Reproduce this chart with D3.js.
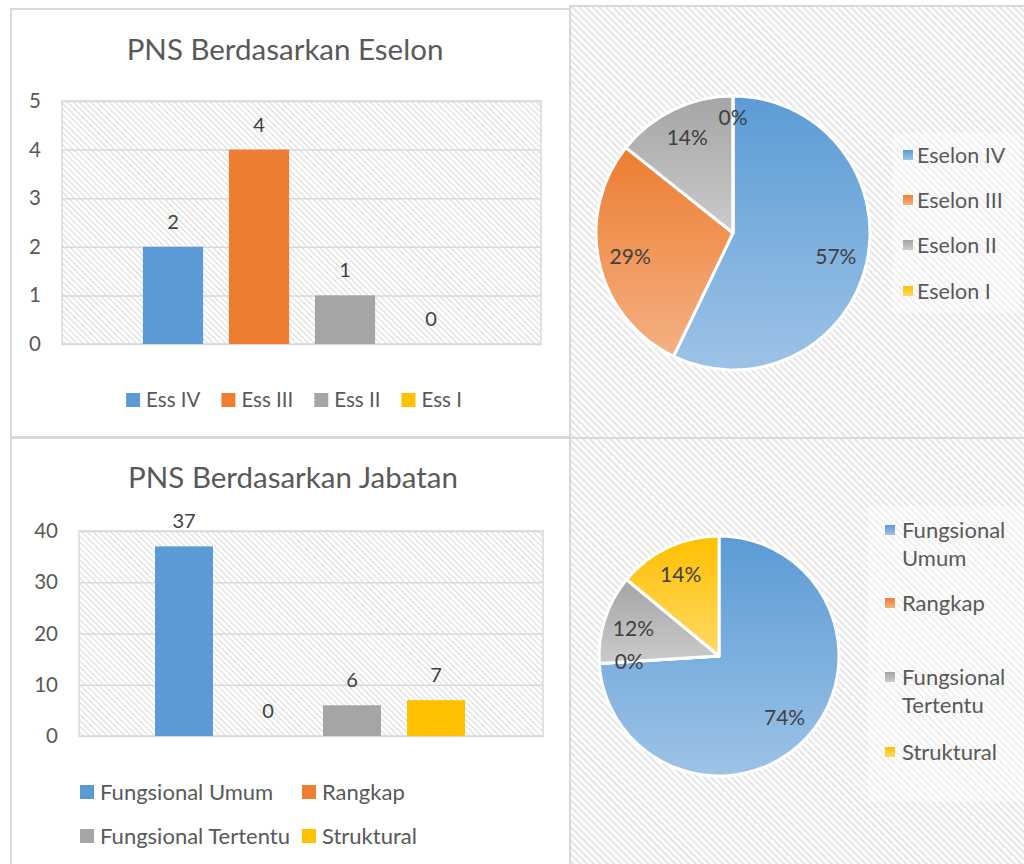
<!DOCTYPE html>
<html><head><meta charset="utf-8">
<script src="https://cdn.jsdelivr.net/npm/d3@7"></script>
<style>
body{margin:0;background:#fff}
svg{display:block}
text{font-family:Lato,"Open Sans",sans-serif}
</style>
</head><body>
<svg id="c" width="1024" height="864"></svg>
<script>
// ---------------- data ----------------
const eselonSeries = ["Ess IV", "Ess III", "Ess II", "Ess I"];
const eselonValues = [2, 4, 1, 0];
const eselonTicks = [0, 1, 2, 3, 4, 5];
const eselonPieLabels = ["Eselon IV", "Eselon III", "Eselon II", "Eselon I"];
const eselonPieValues = [4, 2, 1, 0];

const jabatanSeries = ["Fungsional Umum", "Rangkap", "Fungsional Tertentu", "Struktural"];
const jabatanValues = [37, 0, 6, 7];
const jabatanTicks = [0, 10, 20, 30, 40];
const jabatanPieLabels = [["Fungsional", "Umum"], ["Rangkap"], ["Fungsional", "Tertentu"], ["Struktural"]];
const jabatanPieValues = [37, 0, 6, 7];

const titles = ["PNS Berdasarkan Eselon", "PNS Berdasarkan Jabatan"];
const seriesColors = ["#5B9BD5", "#ED7D31", "#A5A5A5", "#FFC000"];
const lightColors = ["#9DC3E6", "#F4B183", "#CBCBCB", "#FFD966"];

// ---------------- setup ----------------
const svg = d3.select("#c");
const defs = svg.append("defs");

function hatch(id, size, width, color) {
  const p = defs.append("pattern").attr("id", id).attr("patternUnits", "userSpaceOnUse")
    .attr("width", size).attr("height", size).attr("patternTransform", "rotate(-45)");
  p.append("rect").attr("width", size).attr("height", size).attr("fill", "#fff");
  p.append("rect").attr("x", 0).attr("y", 0).attr("width", width).attr("height", size).attr("fill", color);
}
hatch("hatchPlot", 4.2, 1.2, "#dedede");
hatch("hatchPanel", 4.8, 2.2, "#e6e6e6");

seriesColors.forEach((c, i) => {
  const g = defs.append("linearGradient").attr("id", "grad" + i)
    .attr("x1", 0).attr("y1", 0).attr("x2", 0).attr("y2", 1);
  g.append("stop").attr("offset", "0%").attr("stop-color", c);
  g.append("stop").attr("offset", "100%").attr("stop-color", lightColors[i]);
});

const BORDER = "#d9d9d9";
const TXT = "#595959";
const LBL = "#404040";

// panels
svg.append("rect").attr("x", 570).attr("y", 6).attr("width", 460).attr("height", 432)
  .attr("fill", "url(#hatchPanel)").attr("stroke", BORDER).attr("stroke-width", 2);
svg.append("rect").attr("x", 570).attr("y", 438).attr("width", 460).attr("height", 430)
  .attr("fill", "url(#hatchPanel)").attr("stroke", BORDER).attr("stroke-width", 2);
svg.append("rect").attr("x", 11).attr("y", 9).attr("width", 559).attr("height", 428)
  .attr("fill", "#fff").attr("stroke", BORDER).attr("stroke-width", 2);
svg.append("rect").attr("x", 11).attr("y", 438).attr("width", 559).attr("height", 430)
  .attr("fill", "#fff").attr("stroke", BORDER).attr("stroke-width", 2);

// ---------------- bar chart ----------------
function drawBar(cfg) {
  const g = svg.append("g");
  g.append("text").attr("x", cfg.titleX).attr("y", cfg.titleY).attr("text-anchor", "middle")
    .attr("dy", "0.35em").attr("font-size", 29.5).attr("fill", TXT).text(cfg.title);

  const {x0, x1, y0, y1} = cfg.plot;
  const y = d3.scaleLinear().domain([0, d3.max(cfg.ticks)]).range([y1, y0]);
  g.append("rect").attr("x", x0).attr("y", y0).attr("width", x1 - x0).attr("height", y1 - y0)
    .attr("fill", "url(#hatchPlot)").attr("stroke", BORDER).attr("stroke-width", 1.5);

  const ax = g.append("g").attr("transform", `translate(${x0},0)`)
    .call(d3.axisLeft(y).tickValues(cfg.ticks).tickSize(-(x1 - x0)).tickPadding(cfg.tickPad).tickFormat(d3.format("d")));
  ax.select(".domain").remove();
  ax.selectAll(".tick line").attr("stroke", BORDER).attr("stroke-width", 1.5);
  ax.selectAll(".tick text").attr("font-size", 20.5).attr("fill", TXT).attr("font-family", "Lato");

  const xb = d3.scaleBand().domain(cfg.series).range(cfg.cluster).paddingInner(cfg.padIn).paddingOuter(cfg.padIn / 2);
  g.selectAll("rect.bar").data(cfg.values).join("rect").attr("class", "bar")
    .attr("x", (d, i) => xb(cfg.series[i])).attr("width", xb.bandwidth())
    .attr("y", d => y(d)).attr("height", d => y(0) - y(d))
    .attr("fill", (d, i) => seriesColors[i]);
  g.selectAll("text.val").data(cfg.values).join("text").attr("class", "val")
    .attr("x", (d, i) => xb(cfg.series[i]) + xb.bandwidth() / 2)
    .attr("y", d => y(d) - 25).attr("dy", "0.35em").attr("text-anchor", "middle")
    .attr("font-size", 20).attr("fill", LBL).text(d => d);
  return g;
}

const bar1 = drawBar({
  title: titles[0], titleX: 285, titleY: 50,
  plot: {x0: 62, x1: 541, y0: 101, y1: 344}, ticks: eselonTicks, tickPad: 21,
  series: eselonSeries, values: eselonValues, cluster: [130, 474], padIn: 0.3
});
// legend bar 1 (single row, centered)
{
  const lg = bar1.append("g");
  const items = lg.selectAll("g").data(eselonSeries).join("g");
  items.append("rect").attr("width", 14).attr("height", 14).attr("y", -7).attr("fill", (d, i) => seriesColors[i]);
  items.append("text").attr("x", 20).attr("dy", "0.35em").attr("font-size", 20.5).attr("fill", TXT).text(d => d);
  const widths = [];
  items.each(function () { widths.push(20 + d3.select(this).select("text").node().getComputedTextLength()); });
  const gap = 21;
  const total = d3.sum(widths) + gap * (widths.length - 1);
  let start = 294 - total / 2;
  items.attr("transform", (d, i) => {
    const t = `translate(${start},400)`;
    start += widths[i] + gap;
    return t;
  });
}

const bar2 = drawBar({
  title: titles[1], titleX: 293, titleY: 478,
  plot: {x0: 79, x1: 543, y0: 531, y1: 736}, ticks: jabatanTicks, tickPad: 21,
  series: jabatanSeries, values: jabatanValues, cluster: [142, 478], padIn: 0.31
});
// legend bar 2 (2x2 grid)
{
  const cols = [80, 302], rows = [792, 836];
  const items = bar2.append("g").selectAll("g").data(jabatanSeries).join("g")
    .attr("transform", (d, i) => `translate(${cols[i % 2]},${rows[Math.floor(i / 2)]})`);
  items.append("rect").attr("width", 14).attr("height", 14).attr("y", -7).attr("fill", (d, i) => seriesColors[i]);
  items.append("text").attr("x", 20).attr("dy", "0.35em").attr("font-size", 22).attr("fill", TXT).text(d => d);
}

// ---------------- pie charts ----------------
function drawPie(cfg) {
  const g = svg.append("g").attr("transform", `translate(${cfg.cx},${cfg.cy})`);
  const pie = d3.pie().sort(null).value(d => d)(cfg.values);
  const arc = d3.arc().innerRadius(0).outerRadius(cfg.r);
  const labelArc = d3.arc().innerRadius(cfg.r * cfg.lr).outerRadius(cfg.r * cfg.lr);
  g.selectAll("path").data(pie).join("path").attr("d", arc)
    .attr("fill", (d, i) => `url(#grad${i})`).attr("stroke", "#fff").attr("stroke-width", 3)
    .attr("stroke-linejoin", "round");
  const total = d3.sum(cfg.values);
  g.selectAll("text").data(pie).join("text")
    .attr("transform", d => {
      const c = labelArc.centroid(d);
      // zero-size slice at the start/end of the circle is nudged outward like Excel does
      if (d.data === 0 && d.startAngle > 6.2) c[1] -= 10;
      return `translate(${c})`;
    })
    .attr("text-anchor", "middle").attr("dy", "0.35em").attr("font-size", 21).attr("fill", LBL)
    .text(d => Math.round(d.data / total * 100) + "%");

  // legend
  const lg = svg.append("g");
  lg.append("rect").attr("x", cfg.legBox[0]).attr("y", cfg.legBox[1]).attr("width", cfg.legBox[2]).attr("height", cfg.legBox[3])
    .attr("fill", "#fff").attr("opacity", 0.4);
  const items = lg.selectAll("g").data(cfg.labels).join("g")
    .attr("transform", (d, i) => `translate(${cfg.legX},${cfg.legY[i]})`);
  items.append("rect").attr("x", 0).attr("y", -5).attr("width", 10).attr("height", 10)
    .attr("fill", (d, i) => `url(#grad${i})`);
  items.each(function (d) {
    const lines = Array.isArray(d) ? d : [d];
    const t = d3.select(this).append("text").attr("x", cfg.textDx).attr("font-size", cfg.fs).attr("fill", TXT);
    lines.forEach((ln, k) => t.append("tspan").attr("x", cfg.textDx).attr("y", k * 28).attr("dy", "0.35em").text(ln));
  });
}

drawPie({
  cx: 733, cy: 233, r: 137, lr: 0.77, values: eselonPieValues, labels: eselonPieLabels, fs: 21.5,
  legX: 903, legY: [155, 200, 245, 291], textDx: 14, legBox: [893, 133, 127, 180]
});
drawPie({
  cx: 719, cy: 656, r: 120, lr: 0.75, values: jabatanPieValues, labels: jabatanPieLabels, fs: 22,
  legX: 885, legY: [530, 603, 677, 752], textDx: 17, legBox: [868, 506, 156, 296]
});
</script>
</body></html>
